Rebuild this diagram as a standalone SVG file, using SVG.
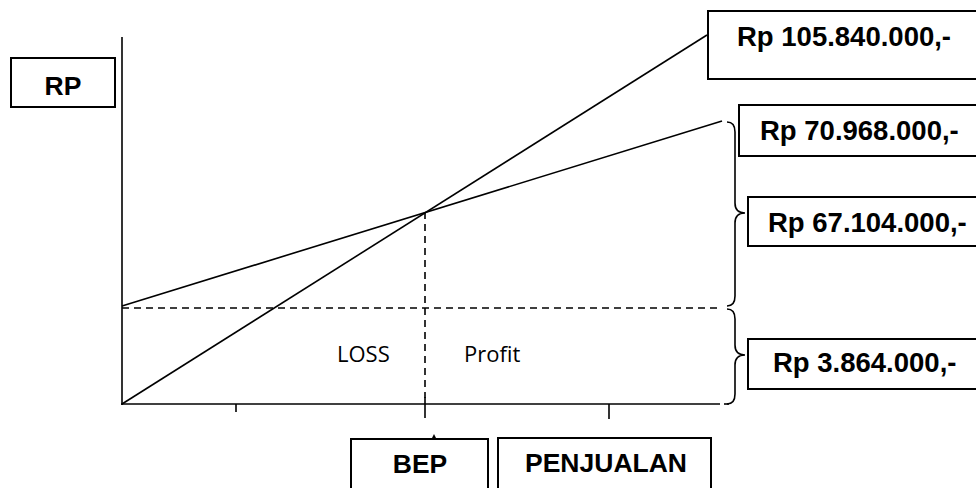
<svg xmlns="http://www.w3.org/2000/svg" width="976" height="488" viewBox="0 0 976 488">
<style>
.box{fill:#fff;stroke:#000;stroke-width:2}
.lbl{font-family:"Liberation Sans",Arial,sans-serif;font-weight:bold;font-size:26.5px;fill:#000}
.val{font-size:27.5px}
.ln{stroke:#000;stroke-width:1.6;fill:none}
.dash{stroke:#000;stroke-width:1.6;fill:none;stroke-dasharray:7,5}
.txt{font-family:"Open Sans","Liberation Sans",sans-serif;font-size:22px;fill:#000}
</style>
<rect width="976" height="488" fill="#fff"/>
<g id="connectors">
<line class="ln" x1="122" y1="37" x2="122" y2="405"/>
<line class="ln" x1="121" y1="404" x2="720" y2="404"/>
<line class="ln" x1="724" y1="404" x2="729" y2="404"/>
<line class="ln" x1="236" y1="404" x2="236" y2="412"/>
<line class="ln" x1="425" y1="397" x2="425" y2="418"/>
<line class="ln" x1="609" y1="404" x2="609" y2="419"/>
<line class="ln" x1="122" y1="306" x2="722" y2="121"/>
<line class="ln" x1="122" y1="404" x2="707" y2="35"/>
<line class="dash" x1="122" y1="308" x2="722" y2="308"/>
<line class="dash" x1="425" y1="212" x2="425" y2="398"/>
<path class="ln" d="M727,122 Q735,122 735,132 L735,203 Q735,213 745,213 Q735,213 735,223 L735,296 Q735,306 727,306"/>
<path class="ln" d="M727,309 Q735,309 735,319 L735,345 Q735,355 745,355 Q735,355 735,365 L735,394 Q735,404 727,404"/>
<polygon points="432,438 434,434 436,438" fill="#000"/>
</g>
<g id="rp"><rect class="box" x="11" y="58" width="104" height="49"/><text class="lbl" x="63" y="95" text-anchor="middle">RP</text></g>
<g id="v105"><rect class="box" x="708" y="11" width="290" height="68"/><text class="lbl val" x="737" y="46">Rp 105.840.000,-</text></g>
<g id="v70"><rect class="box" x="739" y="105" width="260" height="51"/><text class="lbl val" x="760" y="140">Rp 70.968.000,-</text></g>
<g id="v67"><rect class="box" x="748" y="197" width="250" height="49"/><text class="lbl val" x="768" y="232">Rp 67.104.000,-</text></g>
<g id="v3"><rect class="box" x="748" y="339" width="250" height="50"/><text class="lbl val" x="773" y="372">Rp 3.864.000,-</text></g>
<g id="loss"><text class="txt" x="337" y="362">LOSS</text></g>
<g id="profit"><text class="txt" x="464" y="362">Profit</text></g>
<g id="bep"><rect class="box" x="351" y="439" width="137" height="60"/><text class="lbl" x="420" y="473" text-anchor="middle">BEP</text></g>
<g id="penjualan"><rect class="box" x="498" y="438" width="213" height="60"/><text class="lbl" x="606" y="472" text-anchor="middle">PENJUALAN</text></g>
</svg>
